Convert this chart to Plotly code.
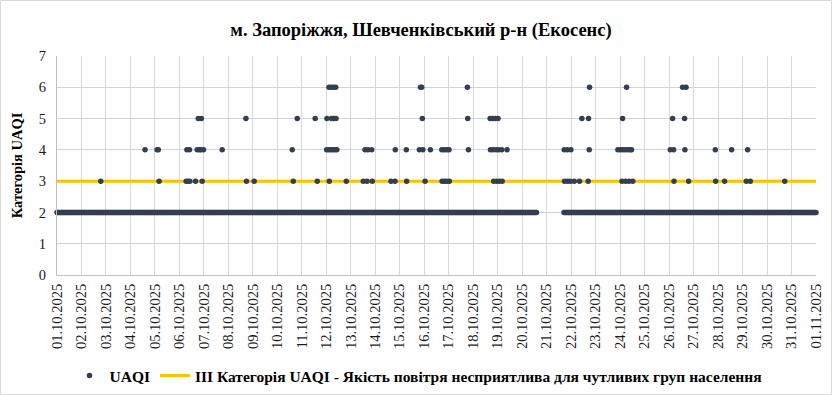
import plotly.graph_objects as go

# ---------------- data ----------------
title_text = "м. Запоріжжя, Шевченківський р-н (Екосенс)"
y_title = "Категорія UAQI"
series_name = "UAQI"
threshold_name = "ІІІ Категорія UAQI - Якість повітря несприятлива для чутливих груп населення"
threshold_value = 3

# day tick labels (01.10.2025 ... 01.11.2025)
day_labels = [f"{d:02d}.10.2025" for d in range(1, 32)] + ["01.11.2025"]
hours_per_day = 24
period_hours = 744  # 01.10.2025 00:00 -> 01.11.2025 00:00

# hourly readings at category 2, as runs [start_hour, end_hour] (gap on 20-21.10)
baseline_value = 2
baseline_runs = [(0, 470), (497, 744)]

# readings above category 2 (hour offset from 01.10.2025 00:00, category)
spike_hours = [
    42.9, 86.3, 98.1, 99.3, 100.1,
    126.6, 127.3, 128.5, 129.9, 130.2, 135.8,
    137.4, 138.5, 139.6, 141.0, 141.5, 142.3, 143.6, 161.9,
    185.2, 185.7, 193.3,
    230.6, 231.6, 235.5, 253.1, 255.1,
    264.3, 264.6, 266.3, 266.6, 266.9, 268.3, 268.6, 269.2, 270.3, 271.0, 271.3,
    272.3, 273.2, 273.5, 274.3, 283.6,
    300.2, 301.9, 303.9, 304.8, 308.5, 309.1,
    327.4, 331.3, 331.6, 342.4, 342.7,
    355.2, 356.3, 357.5, 358.1, 358.6, 360.8, 366.0,
    377.2, 377.5, 379.4, 379.7, 381.9, 382.2, 384.3, 384.6,
    402.3, 402.6, 403.3,
    424.6, 424.9, 427.0, 427.5, 428.0, 429.5, 430.5, 430.8, 432.3, 433.0, 433.5,
    436.0, 436.4, 441.2,
    497.2, 497.5, 500.2, 500.5, 503.2, 503.7, 507.0,
    512.2, 514.5, 520.7, 521.0, 521.7, 522.0,
    549.8, 552.0, 553.8, 554.4, 554.6, 557.0, 557.3, 558.3, 559.4, 560.7, 561.8,
    563.2, 564.4,
    601.2, 603.4, 604.4, 604.8,
    613.2, 615.2, 615.5, 616.6, 619.1,
    645.3, 645.6, 654.4, 661.3, 675.7, 677.0, 679.6, 713.3,
]
spike_values = [
    3, 4, 4, 4, 3,
    3, 4, 3, 4, 3, 3,
    4, 5, 4, 4, 5, 3, 4, 4,
    5, 3, 3,
    4, 3, 5, 5, 3,
    4, 5, 4, 6, 3, 4, 6, 5, 4, 6, 5,
    4, 6, 5, 4, 3,
    3, 4, 3, 4, 4, 3,
    3, 3, 4, 4, 3,
    4, 6, 6, 5, 4, 3, 4,
    4, 3, 4, 3, 4, 3, 4, 3,
    6, 5, 4,
    5, 4, 5, 4, 3, 5, 4, 3, 5, 4, 3,
    4, 3, 4,
    4, 3, 4, 3, 3, 4, 3,
    3, 5, 3, 5, 4, 6,
    4, 4, 3, 5, 4, 4, 3, 6, 4, 3, 4,
    4, 3,
    4, 5, 4, 3,
    6, 5, 4, 6, 3,
    4, 3, 3, 4, 3, 4, 3, 3,
]

# ---------------- build series ----------------
xs, ys = [], []
for start, end in baseline_runs:
    for h in range(start, end + 1):
        xs.append(h)
        ys.append(baseline_value)
xs += spike_hours
ys += spike_values

tick_vals = [i * hours_per_day for i in range(len(day_labels))]

serif = "Liberation Serif, Times New Roman, serif"

fig = go.Figure()
fig.add_trace(go.Scatter(
    x=[0, period_hours], y=[threshold_value, threshold_value],
    mode="lines", line=dict(color="#FFC000", width=3),
    name=threshold_name, legendrank=2, hoverinfo="skip",
))
fig.add_trace(go.Scatter(
    x=xs, y=ys, mode="markers",
    marker=dict(color="#333F50", size=5.5),
    name=series_name, legendrank=1, cliponaxis=False,
))

W, H = 832, 395
ml, mr, mt, mb = 57, 16, 56, 120
pw, ph = W - ml - mr, H - mt - mb

fig.update_layout(
    width=W, height=H,
    margin=dict(l=ml, r=mr, t=mt, b=mb, autoexpand=False),
    paper_bgcolor="white", plot_bgcolor="white",
    font=dict(family=serif, color="#1a1a1a"),
    title=dict(text=title_text, x=0.506, xanchor="center", xref="container",
               y=1 - 30 / H, yanchor="middle", yref="container",
               font=dict(family=serif, size=18.5, weight="bold", color="#000")),
    showlegend=True,
    legend=dict(orientation="h", x=0.503, xanchor="center", xref="container",
                y=1 - 376 / H, yanchor="middle", yref="container",
                font=dict(family=serif, size=15.5, weight="bold", color="#000"),
                bgcolor="rgba(0,0,0,0)"),
    xaxis=dict(range=[0, period_hours], tickvals=tick_vals, ticktext=day_labels,
               tickangle=-90, showgrid=True, gridcolor="#d9d9d9", gridwidth=1,
               showline=True, linecolor="#bfbfbf", linewidth=1, zeroline=False,
               ticks="", automargin=False, ticklabelstandoff=2,
               tickfont=dict(family=serif, size=14.5, color="#1a1a1a")),
    yaxis=dict(range=[0, 7], dtick=1, tick0=0, showgrid=True, gridcolor="#c9d4ea",
               gridwidth=1, showline=True, linecolor="#bfbfbf", linewidth=1,
               zeroline=False, ticks="", automargin=False, ticklabelstandoff=7,
               tickfont=dict(family=serif, size=14.5, color="#1a1a1a"),
               title=dict(text=y_title, standoff=12,
                          font=dict(family=serif, size=14.5, weight="bold", color="#000"))),
    shapes=[dict(type="rect", xref="paper", yref="paper",
                 x0=(0.5 - ml) / pw, x1=(W - 0.5 - ml) / pw,
                 y0=(mt + ph - (H - 0.5)) / ph, y1=(mt + ph - 0.5) / ph,
                 line=dict(color="#d9d9d9", width=1), fillcolor="rgba(0,0,0,0)",
                 layer="below")],
)

fig.write_html(
    "out.html",
    config={"displayModeBar": False},
    post_script="document.body.style.margin='0';document.body.style.overflow='hidden';",
)
